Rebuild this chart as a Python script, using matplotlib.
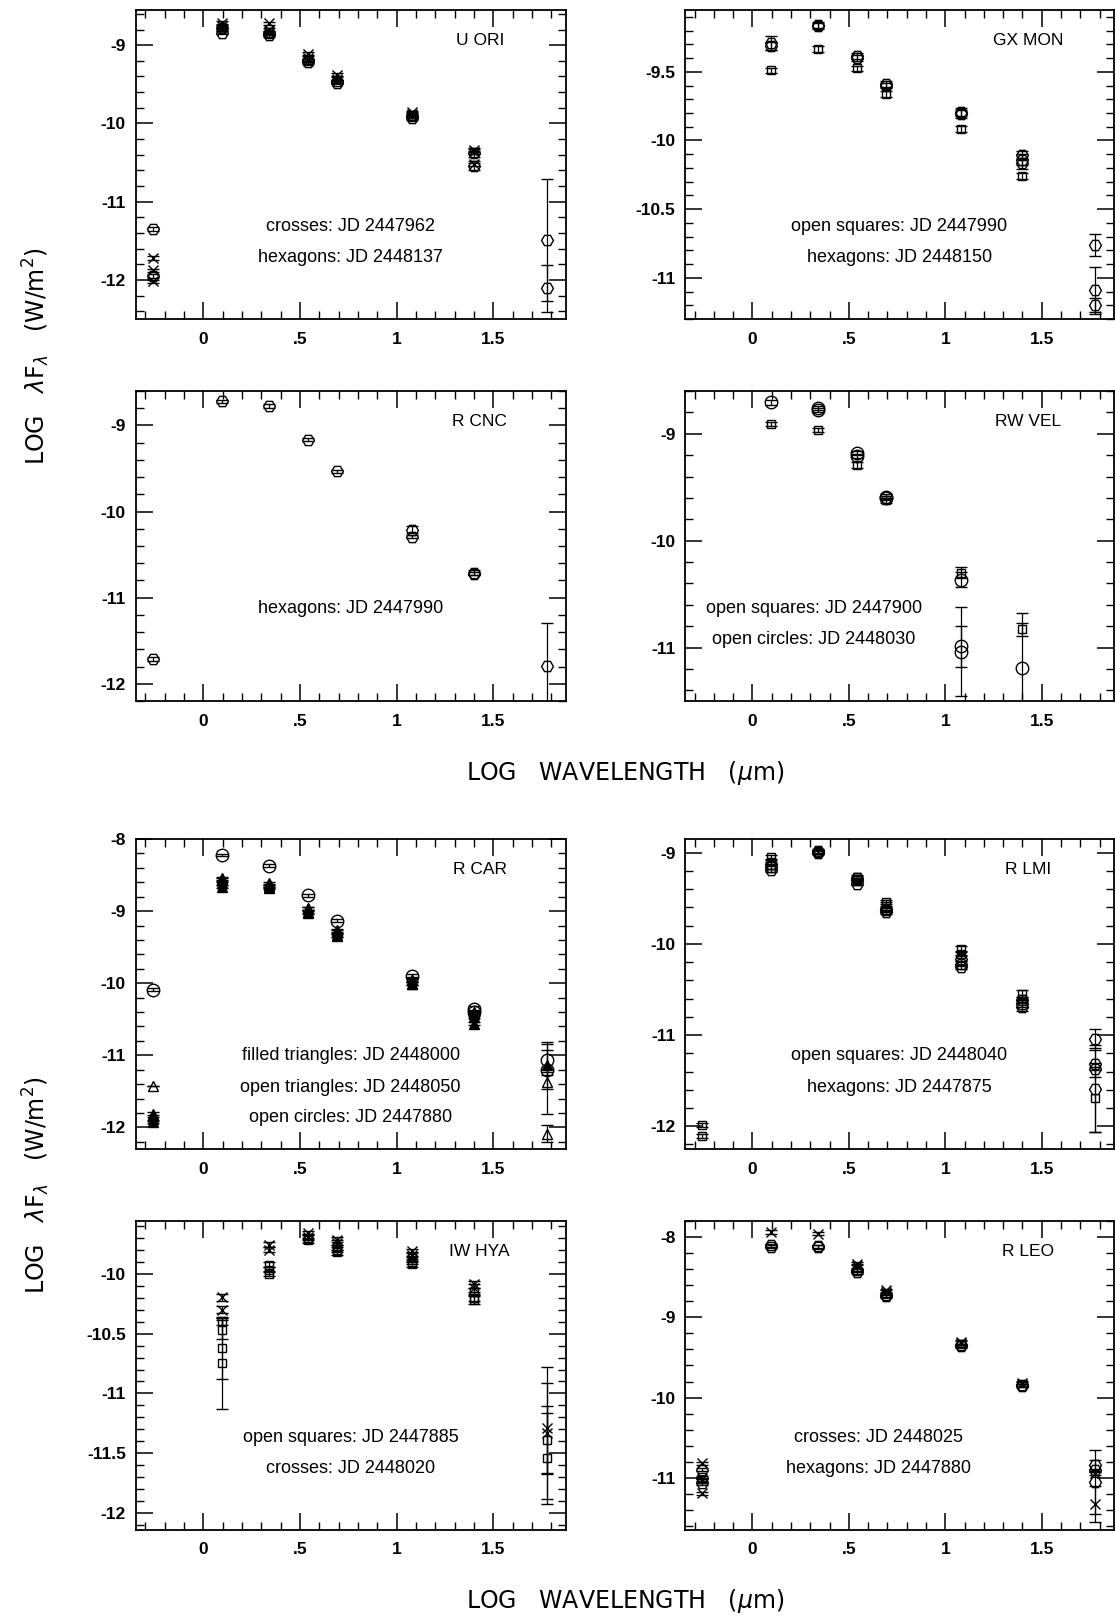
import numpy as np
import matplotlib
matplotlib.use('Agg')
import matplotlib.pyplot as plt
from matplotlib.ticker import MultipleLocator, FuncFormatter

nan = np.nan

# log wavelength (micron) of the photometric bands: V J K L M 12 25 60
BANDS = [-0.26, 0.097, 0.342, 0.544, 0.690, 1.079, 1.398, 1.778]

# U ORI
UORI_X1 = [-11.72, -8.71, -8.72, -9.11, -9.38, -9.86, -10.34, nan]
UORI_X2 = [-11.88, -8.76, -8.80, -9.16, -9.43, -9.88, -10.37, nan]
UORI_X3 = [-12.02, -8.80, -8.84, -9.20, -9.46, -9.91, -10.52, nan]
UORI_H1 = [-11.35, -8.78, -8.85, -9.19, -9.46, -9.90, -10.38, -11.49]
UORI_H2 = [-11.95, -8.84, -8.87, -9.22, -9.48, -9.93, -10.54, -12.11]
UORI_H1_ERR = [0.02, 0.02, 0.02, 0.02, 0.02, 0.03, 0.05, 0.78]
UORI_H2_ERR = [0.02, 0.02, 0.02, 0.02, 0.02, 0.03, 0.06, 0.30]

# GX MON
GXMON_H1 = [nan, -9.29, -9.16, -9.385, -9.59, -9.795, -10.105, -10.76]
GXMON_H2 = [nan, -9.31, -9.165, -9.40, -9.60, -9.81, -10.14, -11.09]
GXMON_H3 = [nan, nan, nan, nan, nan, nan, -10.165, -11.20]
GXMON_S = [nan, -9.49, -9.335, -9.475, -9.66, -9.915, -10.26, nan]
GXMON_H1_ERR = [0.02, 0.05, 0.02, 0.02, 0.02, 0.03, 0.03, 0.08]
GXMON_H2_ERR = [0.02, 0.03, 0.02, 0.02, 0.02, 0.03, 0.04, 0.17]
GXMON_H3_ERR = [0.02, 0.02, 0.02, 0.02, 0.02, 0.02, 0.04, 0.05]

# R CNC
RCNC_H1 = [-11.714, -8.721, -8.772, -9.166, -9.534, -10.21, -10.71, -11.79]
RCNC_H2 = [nan, nan, nan, nan, nan, -10.29, -10.72, nan]
RCNC_H1_ERR = [0.02, 0.02, 0.02, 0.02, 0.02, 0.04, 0.03, 0.50]

# RW VEL
RWVEL_S = [nan, -8.91, -8.963, -9.29, -9.624, -10.30, -10.828, nan]
RWVEL_O1 = [nan, -8.707, -8.76, -9.181, -9.587, -10.367, -11.193, nan]
RWVEL_O2 = [nan, nan, -8.775, -9.206, -9.60, -10.99, nan, nan]
RWVEL_O3 = [nan, nan, nan, nan, nan, -11.037, nan, nan]
RWVEL_S_ERR = [0.02, 0.02, 0.02, 0.03, 0.02, 0.05, 0.06, 0.0]
RWVEL_O1_ERR = [0.02, 0.02, 0.02, 0.02, 0.02, 0.07, 0.52, 0.0]
RWVEL_O2_ERR = [0.02, 0.02, 0.02, 0.02, 0.02, 0.19, 0.0, 0.0]
RWVEL_O3_ERR = [0.0, 0.0, 0.0, 0.0, 0.0, 0.42, 0.0, 0.0]

# R CAR
RCAR_O1 = [-10.088, -8.222, -8.37, -8.778, -9.134, -9.898, -10.352, -11.06]
RCAR_O2 = [nan, nan, nan, nan, nan, nan, -10.40, -11.208]
RCAR_TO1 = [-11.426, -8.56, -8.64, -8.97, -9.28, -9.95, -10.43, -11.37]
RCAR_TO2 = [nan, nan, nan, nan, nan, nan, nan, -12.088]
RCAR_TF1 = [-11.81, -8.546, -8.616, -8.963, -9.264, -9.958, -10.398, -11.139]
RCAR_TF2 = [-11.88, -8.616, -8.662, -9.009, -9.333, -10.005, -10.468, nan]
RCAR_TF3 = [-11.926, -8.662, -8.68, -9.02, -9.34, -10.01, -10.56, nan]
RCAR_O1_ERR = [0.02, 0.02, 0.02, 0.02, 0.02, 0.02, 0.03, 0.22]
RCAR_TF1_ERR = [0.02, 0.02, 0.02, 0.02, 0.02, 0.02, 0.03, 0.33]
RCAR_TO1_ERR = [0.0, 0.02, 0.02, 0.02, 0.02, 0.02, 0.03, 0.45]
RCAR_TO2_ERR = [0.0, 0.0, 0.0, 0.0, 0.0, 0.0, 0.0, 0.12]

# R LMI
RLMI_S1 = [-11.989, -9.047, -8.993, -9.267, -9.541, -10.052, -10.545, -11.686]
RLMI_S2 = [-12.109, -9.102, -8.99, -9.303, -9.56, -10.107, -10.60, nan]
RLMI_H1 = [nan, -9.157, -8.995, -9.34, -9.632, -10.162, -10.655, -11.039]
RLMI_H2 = [nan, -9.194, -9.0, -9.30, -9.65, -10.217, -10.692, -11.313]
RLMI_H3 = [nan, -9.12, -8.98, -9.28, -9.62, -10.253, -10.62, -11.368]
RLMI_H4 = [nan, nan, nan, nan, nan, nan, nan, -11.587]
RLMI_S1_ERR = [0.02, 0.02, 0.02, 0.02, 0.02, 0.03, 0.04, 0.38]
RLMI_H1_ERR = [0.02, 0.02, 0.02, 0.02, 0.02, 0.03, 0.04, 0.10]
RLMI_H2_ERR = [0.02, 0.02, 0.02, 0.02, 0.02, 0.03, 0.04, 0.15]
RLMI_H4_ERR = [0.0, 0.0, 0.0, 0.0, 0.0, 0.0, 0.0, 0.48]

# IW HYA
IWHYA_S1 = [nan, -10.398, -9.925, -9.70, -9.78, -9.87, -10.15, -11.387]
IWHYA_S2 = [nan, -10.468, -9.967, -9.72, -9.80, -9.90, -10.20, -11.54]
IWHYA_S3 = [nan, -10.621, -10.0, nan, -9.82, -9.92, -10.22, nan]
IWHYA_S4 = [nan, -10.747, nan, nan, nan, nan, nan, nan]
IWHYA_X1 = [nan, -10.198, -9.758, -9.66, -9.716, -9.81, -10.09, -11.29]
IWHYA_X2 = [nan, -10.301, -9.80, -9.69, -9.74, -9.84, -10.12, -11.33]
IWHYA_S1_ERR = [0.0, 0.03, 0.02, 0.02, 0.02, 0.02, 0.03, 0.28]
IWHYA_S2_ERR = [0.0, 0.08, 0.02, 0.02, 0.02, 0.02, 0.03, 0.38]
IWHYA_S3_ERR = [0.0, 0.26, 0.02, 0.0, 0.02, 0.02, 0.03, 0.0]
IWHYA_S4_ERR = [0.0, 0.38, 0.0, 0.0, 0.0, 0.0, 0.0, 0.0]
IWHYA_X1_ERR = [0.0, 0.03, 0.02, 0.02, 0.02, 0.02, 0.03, 0.38]
IWHYA_X2_ERR = [0.0, 0.03, 0.02, 0.02, 0.02, 0.02, 0.03, 0.55]

# R LEO
RLEO_X1 = [-10.82, -7.938, -7.959, -8.332, -8.664, -9.307, -9.817, -10.946]
RLEO_X2 = [-11.195, nan, nan, -8.36, -8.68, -9.32, -9.83, -11.328]
RLEO_X3 = [-11.02, nan, nan, nan, nan, nan, nan, nan]
RLEO_H1 = [-10.90, -8.104, -8.116, -8.415, -8.726, -9.349, -9.846, -10.842]
RLEO_H2 = [-11.00, -8.12, -8.125, -8.44, -8.74, -9.36, -9.85, -10.905]
RLEO_H3 = [-11.07, nan, nan, nan, nan, nan, nan, -11.05]
RLEO_X2_ERR = [0.02, 0.0, 0.0, 0.02, 0.02, 0.02, 0.02, 0.22]
RLEO_H1_ERR = [0.02, 0.02, 0.02, 0.02, 0.02, 0.02, 0.02, 0.07]
RLEO_H3_ERR = [0.02, 0.0, 0.0, 0.0, 0.0, 0.0, 0.0, 0.40]

FONT = 'Liberation Sans'
W, H = 1115, 1622

SIZES = {'H': 8.5, 'o': 9, 's': 6, '^': 7, 'x': 7}


def series(ax, vals, marker, err=None, filled=False):
    if err is None:
        err = [0.02] * len(vals)
    ax.errorbar(
        BANDS, vals, yerr=err, fmt=marker, ls='none',
        mfc='k' if filled else 'none', mec='k', mew=1.0, ms=SIZES[marker],
        ecolor='k', elinewidth=0.9, capsize=4.5, capthick=0.9)


def setup(ax, ylim, major, minor, name, lines, cx=0.5):
    ax.set_xlim(-0.35, 1.875)
    ax.set_ylim(*ylim)
    ax.xaxis.set_major_locator(MultipleLocator(0.5))
    ax.xaxis.set_minor_locator(MultipleLocator(0.1))
    ax.yaxis.set_major_locator(MultipleLocator(major))
    ax.yaxis.set_minor_locator(MultipleLocator(minor))
    ax.xaxis.set_major_formatter(FuncFormatter(
        lambda v, p: {0.0: '0', 0.5: '.5', 1.0: '1', 1.5: '1.5'}.get(round(v, 2), '')))
    ax.yaxis.set_major_formatter(FuncFormatter(lambda v, p: '%g' % v))
    ax.tick_params(which='both', direction='in', top=True, right=True)
    ax.tick_params(which='major', length=12, width=1.1)
    ax.tick_params(which='minor', length=6, width=1.0)
    ax.tick_params(axis='x', pad=9)
    ax.tick_params(axis='y', pad=7)
    for lab in ax.get_xticklabels() + ax.get_yticklabels():
        lab.set_fontfamily(FONT)
        lab.set_fontweight('bold')
        lab.set_fontsize(12.5)
    for s in ax.spines.values():
        s.set_linewidth(1.3)
    ax.text(0.80, 0.9, name, transform=ax.transAxes, ha='center',
            va='center', fontsize=12.5, family=FONT)
    for i, t in enumerate(lines):
        ax.text(cx, 0.3 - 0.1 * i, t, transform=ax.transAxes, ha='center',
                va='center', fontsize=13, family=FONT)


fig = plt.figure(figsize=(W / 100, H / 100), dpi=100)

cols = [(135.7, 430), (685, 429)]
rows = [(10, 309), (391, 310), (839, 310), (1221, 309)]


def make_ax(r, c):
    left, width = cols[c]
    top, height = rows[r]
    return fig.add_axes([left / W, (H - top - height) / H, width / W, height / H])


# U ORI
ax = make_ax(0, 0)
series(ax, UORI_X1, 'x')
series(ax, UORI_X2, 'x')
series(ax, UORI_X3, 'x')
series(ax, UORI_H1, 'H', UORI_H1_ERR)
series(ax, UORI_H2, 'H', UORI_H2_ERR)
setup(ax, (-12.5, -8.55), 1, 0.2, 'U ORI',
      ['crosses: JD 2447962', 'hexagons: JD 2448137'])

# GX MON
ax = make_ax(0, 1)
series(ax, GXMON_S, 's')
series(ax, GXMON_H1, 'H', GXMON_H1_ERR)
series(ax, GXMON_H2, 'H', GXMON_H2_ERR)
series(ax, GXMON_H3, 'H', GXMON_H3_ERR)
setup(ax, (-11.3, -9.05), 0.5, 0.1, 'GX MON',
      ['open squares: JD 2447990', 'hexagons: JD 2448150'])

# R CNC
ax = make_ax(1, 0)
series(ax, RCNC_H1, 'H', RCNC_H1_ERR)
series(ax, RCNC_H2, 'H')
setup(ax, (-12.2, -8.6), 1, 0.2, 'R CNC', ['hexagons: JD 2447990'])

# RW VEL
ax = make_ax(1, 1)
series(ax, RWVEL_S, 's', RWVEL_S_ERR)
series(ax, RWVEL_O1, 'o', RWVEL_O1_ERR)
series(ax, RWVEL_O2, 'o', RWVEL_O2_ERR)
series(ax, RWVEL_O3, 'o', RWVEL_O3_ERR)
setup(ax, (-11.5, -8.6), 1, 0.2, 'RW VEL',
      ['open squares: JD 2447900', 'open circles: JD 2448030'], cx=0.3)

# R CAR
ax = make_ax(2, 0)
series(ax, RCAR_O1, 'o', RCAR_O1_ERR)
series(ax, RCAR_O2, 'o')
series(ax, RCAR_TO1, '^', RCAR_TO1_ERR)
series(ax, RCAR_TO2, '^', RCAR_TO2_ERR)
series(ax, RCAR_TF1, '^', RCAR_TF1_ERR, filled=True)
series(ax, RCAR_TF2, '^', filled=True)
series(ax, RCAR_TF3, '^', filled=True)
setup(ax, (-12.3, -8.0), 1, 0.2, 'R CAR',
      ['filled triangles: JD 2448000', 'open triangles: JD 2448050',
       'open circles: JD 2447880'])

# R LMI
ax = make_ax(2, 1)
series(ax, RLMI_S1, 's', RLMI_S1_ERR)
series(ax, RLMI_S2, 's')
series(ax, RLMI_H1, 'H', RLMI_H1_ERR)
series(ax, RLMI_H2, 'H', RLMI_H2_ERR)
series(ax, RLMI_H3, 'H')
series(ax, RLMI_H4, 'H', RLMI_H4_ERR)
setup(ax, (-12.25, -8.85), 1, 0.2, 'R LMI',
      ['open squares: JD 2448040', 'hexagons: JD 2447875'])

# IW HYA
ax = make_ax(3, 0)
series(ax, IWHYA_S1, 's', IWHYA_S1_ERR)
series(ax, IWHYA_S2, 's', IWHYA_S2_ERR)
series(ax, IWHYA_S3, 's', IWHYA_S3_ERR)
series(ax, IWHYA_S4, 's', IWHYA_S4_ERR)
series(ax, IWHYA_X1, 'x', IWHYA_X1_ERR)
series(ax, IWHYA_X2, 'x', IWHYA_X2_ERR)
setup(ax, (-12.14, -9.56), 0.5, 0.1, 'IW HYA',
      ['open squares: JD 2447885', 'crosses: JD 2448020'])

# R LEO
ax = make_ax(3, 1)
series(ax, RLEO_X1, 'x')
series(ax, RLEO_X2, 'x', RLEO_X2_ERR)
series(ax, RLEO_X3, 'x')
series(ax, RLEO_H1, 'H', RLEO_H1_ERR)
series(ax, RLEO_H2, 'H')
series(ax, RLEO_H3, 'H', RLEO_H3_ERR)
setup(ax, (-11.65, -7.8), 1, 0.2, 'R LEO',
      ['crosses: JD 2448025', 'hexagons: JD 2447880'], cx=0.45)

# axis labels shared by each half of the figure
xlab = r'LOG   WAVELENGTH   ($\mu$m)'
ylab = r'LOG   $\lambda$F$_\lambda$   (W/m$^2$)'
for yc in (773, 1601):
    fig.text(625 / W, 1 - yc / H, xlab, ha='center', va='center',
             fontsize=17, family='DejaVu Sans')
for yc in (356, 1185):
    fig.text(36 / W, 1 - yc / H, ylab, ha='center', va='center',
             rotation=90, fontsize=17, family='DejaVu Sans')

fig.savefig('out.png', dpi=100)
